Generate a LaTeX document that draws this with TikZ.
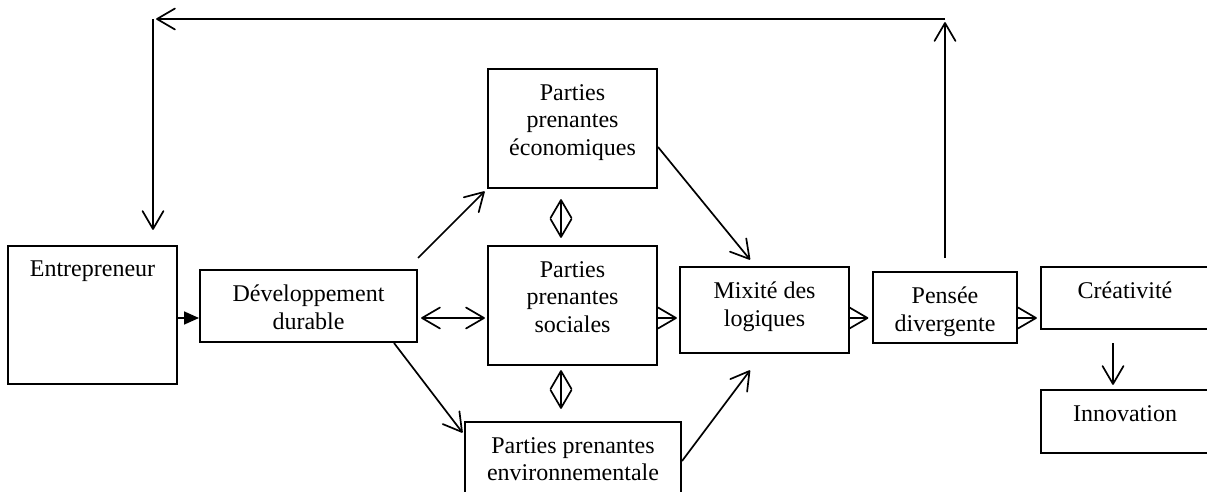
\documentclass[tikz,border=0pt]{standalone}
\usepackage{fontspec}
\setmainfont{Liberation Serif}
\usetikzlibrary{arrows.meta}
\pgfdeclarearrow{
  name = OpenVee,
  parameters = {\the\pgfarrowlength,\the\pgfarrowwidth},
  setup code = {
    \pgfarrowssettipend{0pt}
    \pgfarrowssetlineend{-0.5pt}
    \pgfarrowssetbackend{-\pgfarrowlength}
    \pgfarrowshullpoint{0pt}{0pt}
    \pgfarrowshullpoint{-\pgfarrowlength}{.5\pgfarrowwidth}
    \pgfarrowshullpoint{-\pgfarrowlength}{-.5\pgfarrowwidth}
    \pgfarrowssavethe\pgfarrowlength
    \pgfarrowssavethe\pgfarrowwidth
  },
  drawing code = {
    \pgfsetdash{}{0pt}
    \pgfsetroundjoin
    \pgfsetroundcap
    \pgfpathmoveto{\pgfqpoint{-\pgfarrowlength}{.5\pgfarrowwidth}}
    \pgfpathlineto{\pgfqpoint{0pt}{0pt}}
    \pgfpathlineto{\pgfqpoint{-\pgfarrowlength}{-.5\pgfarrowwidth}}
    \pgfusepathqstroke
  },
  defaults = {length=18pt,width=21pt}
}
\begin{document}
\begin{tikzpicture}[x=1pt,y=-1pt,
  box/.style={draw,line width=2pt,rectangle,inner sep=0pt},
  txt/.style={font=\fontsize{24}{27.5}\selectfont,align=center,inner sep=0pt,anchor=north,yshift=-16pt},
  arr/.style={line width=1.7pt,-{OpenVee[length=18pt,width=21pt]}},
  darr/.style={line width=1.7pt,{OpenVee[length=18pt,width=21pt]}-{OpenVee[length=18pt,width=21pt]}},
  farr/.style={line width=1.7pt,-{Triangle[length=15pt,width=13pt]}}]
\useasboundingbox (0,0) rectangle (1207,492);
\clip (0,0) rectangle (1207,492);

\node[box,minimum width=169pt,minimum height=138pt,label={[txt]north:Entrepreneur}] (ent) at (92.5,315) {};
\node[box,minimum width=217pt,minimum height=72pt,label={[txt]north:{Développement\\durable}}] (dev) at (308.5,306) {};
\node[box,minimum width=169pt,minimum height=119pt,label={[txt]north:{Parties\\prenantes\\économiques}}] (eco) at (572.5,128.5) {};
\node[box,minimum width=169pt,minimum height=119pt,label={[txt]north:{Parties\\prenantes\\sociales}}] (soc) at (572.5,305.5) {};
\node[box,minimum width=216pt,minimum height=120pt,label={[txt]north:{Parties prenantes\\environnementale}}] (env) at (573,482) {};
\node[box,minimum width=169pt,minimum height=86pt,label={[txt]north:{Mixité des\\logiques}}] (mix) at (764.5,310) {};
\node[box,minimum width=144pt,minimum height=71pt,label={[txt]north:{Pensée\\divergente}}] (pen) at (945,307.5) {};
\node[box,minimum width=168pt,minimum height=62pt,label={[txt]north:Créativité}] (cre) at (1125,298) {};
\node[box,minimum width=168pt,minimum height=63pt,label={[txt]north:Innovation}] (inn) at (1125,421.5) {};

\coordinate (rowy) at (0,318);
\coordinate (tr) at (945,19);
\coordinate (tl) at (153,19);

\draw[farr] (ent.east|-rowy) -- (dev.west|-rowy);
\draw[darr,shorten <=4pt,shorten >=3pt] (dev.east|-rowy) -- (soc.west|-rowy);
\draw[arr] ([yshift=11pt]dev.north east) -- ([shift={(-3pt,-3pt)}]eco.south west);
\draw[arr] ([xshift=-24pt]dev.south east) -- ([shift={(-2pt,-11pt)}]env.north west);
\draw[darr] ([shift={(-11.5pt,-11pt)}]eco.south) -- ([shift={(-11.5pt,8pt)}]soc.north);
\draw[darr] ([shift={(-11.5pt,-5pt)}]soc.south) -- ([shift={(-12pt,13pt)}]env.north);
\draw[arr,shorten >=3pt] (soc.east|-rowy) -- (mix.west|-rowy);
\draw[arr] ([yshift=-18.5pt]eco.east) -- ([shift={(-15pt,7pt)}]mix.north);
\draw[arr] ([yshift=-40pt]env.north east) -- ([shift={(-15pt,-17pt)}]mix.south);
\draw[arr,shorten >=4.5pt] (mix.east|-rowy) -- (pen.west|-rowy);
\draw[arr,shorten >=4pt] (pen.east|-rowy) -- (cre.west|-rowy);
\draw[arr] ([shift={(-12pt,-13pt)}]cre.south) -- ([shift={(-12pt,5pt)}]inn.north);
\draw[arr,shorten >=4pt] ([yshift=13pt]pen.north) -- (pen.north|-tr);
\draw[arr,shorten >=4pt] (tr) -- (tl);
\draw[arr,shorten >=16pt] (tl) -- (tl|-ent.north);
\end{tikzpicture}
\end{document}
